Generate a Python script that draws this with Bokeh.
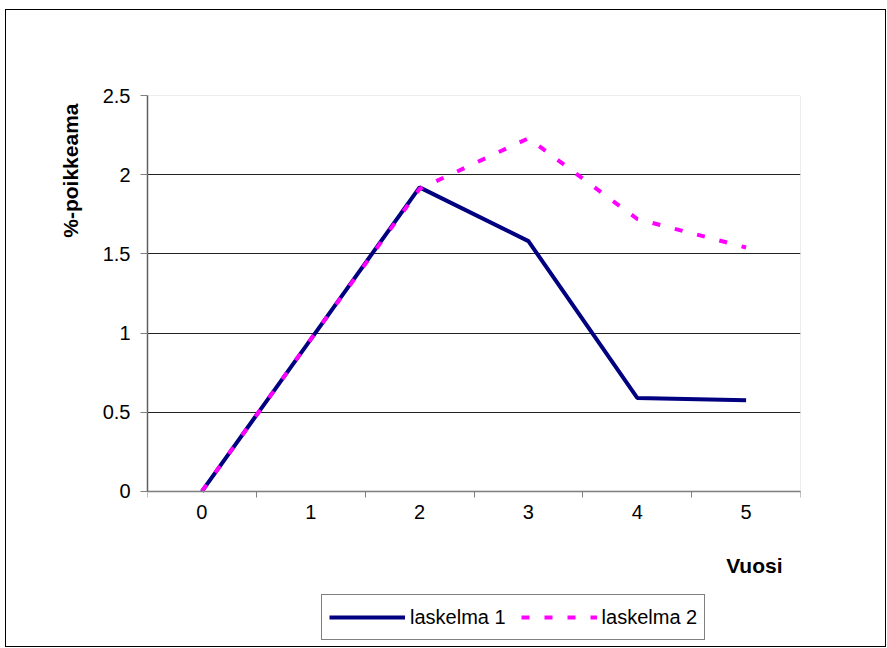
from bokeh.plotting import figure
from bokeh.models import FixedTicker, Legend, LegendItem, Title, Label, BoxAnnotation
from bokeh.embed import file_html
from bokeh.resources import INLINE

years = [0, 1, 2, 3, 4, 5]
year_labels = ["0", "1", "2", "3", "4", "5"]
laskelma1 = [0.0, 0.96, 1.92, 1.58, 0.59, 0.575]
laskelma2 = [0.0, 0.96, 1.91, 2.23, 1.72, 1.54]
y_ticks = [0, 0.5, 1, 1.5, 2, 2.5]
y_tick_labels = ["0", "0.5", "1", "1.5", "2", "2.5"]
y_min, y_max = 0, 2.5
x_min, x_max = -0.5, 5.5

FONT = "Liberation Sans"

# the frame extends below the plot area so that the x-axis title and legend sit inside it
p = figure(frame_width=653, frame_height=551, output_backend="svg", toolbar_location=None,
           x_range=(x_min, x_max), y_range=(-0.98, y_max),
           min_border_left=141, min_border_right=85, min_border_top=85, min_border_bottom=0)
p.styles = {"border": "1px solid black", "margin-left": "5px", "margin-top": "9px"}
p.background_fill_color = "white"
p.border_fill_color = "white"
p.outline_line_color = None

# plot-area border
p.add_layout(BoxAnnotation(left=x_min, right=x_max, bottom=y_min, top=y_max,
                           fill_color=None, fill_alpha=0, line_color="#808080", line_width=1,
                           level="underlay"))

# x axis at y = 0
p.xaxis.fixed_location = 0
p.xaxis.ticker = FixedTicker(ticks=years, minor_ticks=[-0.5, 0.5, 1.5, 2.5, 3.5, 4.5, 5.5])
p.xaxis.major_label_overrides = {y: l for y, l in zip(years, year_labels)}
p.xaxis.major_tick_out = 0
p.xaxis.major_tick_in = 0
p.xaxis.minor_tick_out = 6
p.xaxis.minor_tick_in = 0
p.xaxis.minor_tick_line_color = "#808080"
p.xaxis.axis_line_color = "#808080"
p.xaxis.axis_line_width = 1.5
p.xaxis.major_label_standoff = 8
p.xaxis.major_label_text_font = FONT
p.xaxis.major_label_text_font_size = "20px"
p.xaxis.major_label_text_color = "black"

# y axis limited to the plot area
p.yaxis.bounds = (y_min, y_max)
p.yaxis.ticker = FixedTicker(ticks=y_ticks, minor_ticks=[])
p.yaxis.major_label_overrides = {t: l for t, l in zip(y_ticks, y_tick_labels)}
p.yaxis.major_tick_out = 7
p.yaxis.major_tick_in = 0
p.yaxis.major_tick_line_color = "#808080"
p.yaxis.axis_line_color = "#606060"
p.yaxis.axis_line_width = 1.5
p.yaxis.major_label_standoff = 10
p.yaxis.major_label_text_font = FONT
p.yaxis.major_label_text_font_size = "20px"
p.yaxis.major_label_text_color = "black"

p.xgrid.grid_line_color = None
p.ygrid.ticker = FixedTicker(ticks=y_ticks)
p.ygrid.grid_line_color = "#222222"
p.ygrid.grid_line_width = 1

r1 = p.line(years, laskelma1, line_color="#000080", line_width=4)
r2 = p.line(years, laskelma2, line_color="#FF00FF", line_width=4, line_dash="8 15")

ytitle = Title(text="%-poikkeama", align="right", offset=8, standoff=36,
               text_font=FONT, text_font_size="21px", text_font_style="bold",
               text_color="black")
p.add_layout(ytitle, "left")

xlab = Label(x=5.335, y=-0.467, text="Vuosi", text_align="right", text_baseline="middle",
             text_font=FONT, text_font_size="21px", text_font_style="bold",
             text_color="black")
p.add_layout(xlab)

legend = Legend(items=[LegendItem(label="laskelma 1", renderers=[r1]),
                       LegendItem(label="laskelma 2", renderers=[r2])],
                orientation="horizontal", location=(174, 6),
                glyph_width=76, glyph_height=30, label_height=30, label_standoff=5,
                spacing=15, padding=7, margin=0,
                label_text_font=FONT, label_text_font_size="20px", label_text_color="black",
                border_line_color="black", border_line_width=1,
                background_fill_color="white", background_fill_alpha=1)
p.add_layout(legend, "center")

open("out.html", "w").write(file_html(p, INLINE))
